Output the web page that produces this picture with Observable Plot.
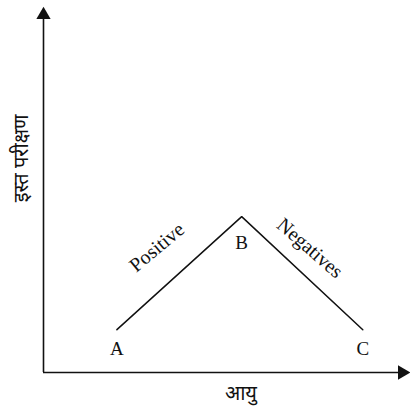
<!DOCTYPE html>
<html>
<head>
<meta charset="utf-8">
<script src="https://cdn.jsdelivr.net/npm/d3@7"></script>
<script src="https://cdn.jsdelivr.net/npm/@observablehq/plot@0.6"></script>
<style>
  html, body { margin: 0; padding: 0; background: #fff; }
</style>
</head>
<body>
<div id="chart"></div>
<script>
// Stages of the curve and their positions (age, test score)
const stages = ["A", "B", "C"];
const ages = [20, 54, 87];
const scores = [11.7, 42.6, 11.7];

// Slope labels along the two segments
const slopeLabels = ["Positive", "Negatives"];
const slopeAges = [30.9, 72.6];
const slopeScores = [34.2, 34.0];
const slopeAngles = [-40, 41];

// Axis titles
const xTitle = "आयु";
const yTitle = "इस्त परीक्षण";

// Axis extents (origin and arrow tips)
const xMax = 100;
const yMax = 100;

const curve = stages.map((s, i) => ({stage: s, age: ages[i], score: scores[i]}));
const slopes = slopeLabels.map((t, i) => ({text: t, age: slopeAges[i], score: slopeScores[i], angle: slopeAngles[i]}));

const serif = "'Liberation Serif', 'Times New Roman', serif";
const sans = "'Noto Sans', 'Liberation Sans', sans-serif";

const chart = Plot.plot({
  width: 410,
  height: 408,
  x: {domain: [0, xMax], range: [43, 410], axis: null},
  y: {domain: [0, yMax], range: [372, 6], axis: null},
  style: {background: "#fff", overflow: "visible"},
  marks: [
    // axes
    Plot.ruleX([0], {y1: 0, y2: yMax - 2.5, stroke: "#111", strokeWidth: 1.6}),
    Plot.ruleY([0], {x1: 0, x2: xMax - 2.5, stroke: "#111", strokeWidth: 1.6}),
    // arrow heads
    Plot.dot([{x: 0, y: yMax}], {x: "x", y: "y", symbol: "triangle", r: 5.3, fill: "#111", stroke: null, dy: 8.4}),
    Plot.dot([{x: xMax, y: 0}], {x: "x", y: "y", symbol: "triangle", r: 5.3, fill: "#111", stroke: null, rotate: 90, dx: -8.4}),
    // the curve
    Plot.line(curve, {x: "age", y: "score", stroke: "#111", strokeWidth: 1.5, strokeLinejoin: "miter"}),
    // stage labels
    Plot.text(curve, {x: "age", y: "score", text: "stage", lineAnchor: "top",
      dy: 12, fontFamily: serif, fontSize: 19, fill: "#111", filter: d => d.stage !== "B"}),
    Plot.text(curve, {x: "age", y: "score", text: "stage", lineAnchor: "top",
      dy: 19, fontFamily: serif, fontSize: 19, fill: "#111", filter: d => d.stage === "B"}),
    // slope labels
    Plot.text(slopes, {x: "age", y: "score", text: "text", rotate: "angle",
      fontFamily: serif, fontSize: 20, fill: "#111"}),
    // axis titles
    Plot.text([xTitle], {x: 53.8, y: -5.8, text: d => d, fontFamily: sans, fontSize: 20, fontWeight: 400, fill: "#111"}),
    Plot.text([yTitle], {x: -6, y: 58.5, text: d => d, rotate: -90, fontFamily: sans, fontSize: 20, fontWeight: 400, fill: "#111"})
  ]
});

document.getElementById("chart").appendChild(chart);
</script>
</body>
</html>
